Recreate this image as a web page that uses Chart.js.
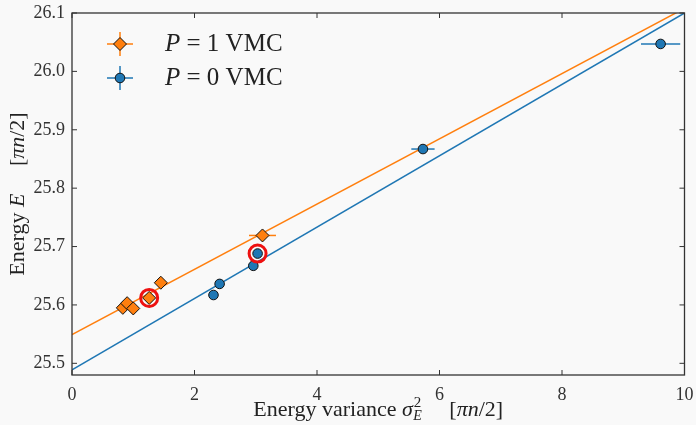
<!DOCTYPE html>
<html>
<head>
<meta charset="utf-8">
<script src="https://cdn.jsdelivr.net/npm/chart.js@4"></script>
<style>
  html, body { margin: 0; padding: 0; background: #f9f9f9; }
  #wrap { width: 696px; height: 425px; }
</style>
</head>
<body>
<div id="wrap"><canvas id="chart" width="696" height="425"></canvas></div>
<script>
// P = 1 VMC points (variance, energy, variance error)
const p1Var = [0.83, 0.90, 1.00, 1.26, 1.45, 3.11];
const p1Energy = [25.595, 25.603, 25.594, 25.612, 25.638, 25.719];
const p1VarErr = [0, 0, 0, 0, 0, 0.22];

// P = 0 VMC points
const p0Var = [2.31, 2.41, 2.96, 3.03, 5.73, 9.61];
const p0Energy = [25.617, 25.636, 25.667, 25.688, 25.867, 26.047];
const p0VarErr = [0, 0, 0, 0, 0.19, 0.32];

// highlighted points (red rings)
const ringVar = [1.26, 3.03];
const ringEnergy = [25.612, 25.688];

// linear fits, evaluated at the axis ends
const fitX = [0, 10];
const p1Fit = [25.549, 26.108];
const p0Fit = [25.489, 26.100];

const xTicks = [0, 2, 4, 6, 8, 10];
const yTicks = [25.5, 25.6, 25.7, 25.8, 25.9, 26.0, 26.1];

const ORANGE = '#ff7f0e';
const BLUE = '#1f77b4';
const SERIF = '"Liberation Serif", "DejaVu Serif", serif';

function pts(xs, ys) {
    return xs.map((x, i) => ({x: x, y: ys[i]}));
}

// draw text made of pieces with different styles
function richText(ctx, parts, x, y, align) {
    let total = 0;
    parts.forEach(p => { ctx.font = p.font; total += ctx.measureText(p.t).width + (p.dx || 0); });
    let cx = align === 'center' ? x - total / 2 : x;
    parts.forEach(p => {
        ctx.font = p.font;
        ctx.fillText(p.t, cx, y + (p.dy || 0));
        cx += ctx.measureText(p.t).width + (p.dx || 0);
    });
}

const extras = {
    id: 'extras',
    beforeDatasetsDraw(chart) {
        const ctx = chart.ctx;
        const xs = chart.scales.x, ys = chart.scales.y;
        ctx.save();
        ctx.lineWidth = 1.5;
        [[p1Var, p1Energy, p1VarErr, ORANGE], [p0Var, p0Energy, p0VarErr, BLUE]].forEach(s => {
            ctx.strokeStyle = s[3];
            s[0].forEach((v, i) => {
                if (!s[2][i]) return;
                const py = ys.getPixelForValue(s[1][i]);
                ctx.beginPath();
                ctx.moveTo(xs.getPixelForValue(v - s[2][i]), py);
                ctx.lineTo(xs.getPixelForValue(v + s[2][i]), py);
                ctx.stroke();
            });
        });
        ctx.restore();
    },
    afterDraw(chart) {
        const ctx = chart.ctx;
        const a = chart.chartArea;
        const xs = chart.scales.x, ys = chart.scales.y;
        ctx.save();
        // frame
        ctx.strokeStyle = '#333';
        ctx.lineWidth = 1.3;
        ctx.strokeRect(a.left, a.top, a.right - a.left, a.bottom - a.top);
        // inward ticks on all sides
        ctx.lineWidth = 1;
        ctx.beginPath();
        xTicks.forEach(t => {
            const px = xs.getPixelForValue(t);
            ctx.moveTo(px, a.bottom); ctx.lineTo(px, a.bottom - 5);
            ctx.moveTo(px, a.top); ctx.lineTo(px, a.top + 5);
        });
        yTicks.forEach(t => {
            const py = ys.getPixelForValue(t);
            ctx.moveTo(a.left, py); ctx.lineTo(a.left + 5, py);
            ctx.moveTo(a.right, py); ctx.lineTo(a.right - 5, py);
        });
        ctx.stroke();

        // axis titles
        ctx.fillStyle = '#222';
        ctx.textBaseline = 'middle';
        const rm = '22px ' + SERIF, it = 'italic 22px ' + SERIF, sm = '15px ' + SERIF, smi = 'italic 14px ' + SERIF;
        richText(ctx, [
            {t: 'Energy variance ', font: rm},
            {t: 'σ', font: it, dx: 1},
            {t: '2', font: sm, dy: -7, dx: -8},
            {t: 'E', font: smi, dy: 6},
            {t: '     [', font: rm},
            {t: 'πn', font: it},
            {t: '/2]', font: rm}
        ], (a.left + a.right) / 2, 410, 'center');

        ctx.save();
        ctx.translate(18, (a.top + a.bottom) / 2);
        ctx.rotate(-Math.PI / 2);
        richText(ctx, [
            {t: 'Energy ', font: rm},
            {t: 'E', font: it},
            {t: '     [', font: rm},
            {t: 'πn', font: it},
            {t: '/2]', font: rm}
        ], 0, 0, 'center');
        ctx.restore();

        // legend
        const lg = [[ORANGE, 'diamond', '1', 44], [BLUE, 'circle', '0', 78]];
        lg.forEach(l => {
            const mx = 120, my = l[3];
            ctx.strokeStyle = l[0];
            ctx.lineWidth = 1.5;
            ctx.beginPath();
            ctx.moveTo(mx - 13, my); ctx.lineTo(mx + 13, my);
            ctx.moveTo(mx, my - 12); ctx.lineTo(mx, my + 12);
            ctx.stroke();
            ctx.fillStyle = l[0];
            ctx.strokeStyle = '#111';
            ctx.lineWidth = 1;
            ctx.beginPath();
            if (l[1] === 'diamond') {
                ctx.moveTo(mx, my - 6.5); ctx.lineTo(mx + 6.5, my); ctx.lineTo(mx, my + 6.5); ctx.lineTo(mx - 6.5, my); ctx.closePath();
            } else {
                ctx.arc(mx, my, 4.8, 0, Math.PI * 2);
            }
            ctx.fill(); ctx.stroke();
            ctx.fillStyle = '#222';
            richText(ctx, [
                {t: 'P', font: 'italic 25px ' + SERIF},
                {t: ' = ' + l[2] + ' VMC', font: '25px ' + SERIF}
            ], 165, my, 'left');
        });
        ctx.restore();
    }
};

window.onload = function () {
    new Chart(document.getElementById('chart'), {
        type: 'scatter',
        data: {
            datasets: [
                {
                    label: 'highlight',
                    data: pts(ringVar, ringEnergy),
                    pointStyle: 'circle',
                    pointRadius: 8.5,
                    backgroundColor: 'rgba(0,0,0,0)',
                    borderColor: '#ee1111',
                    borderWidth: 3
                },
                {
                    label: 'P = 1 VMC',
                    data: pts(p1Var, p1Energy),
                    pointStyle: 'rectRot',
                    pointRadius: 6.5,
                    backgroundColor: ORANGE,
                    borderColor: '#111',
                    borderWidth: 1
                },
                {
                    label: 'P = 0 VMC',
                    data: pts(p0Var, p0Energy),
                    pointStyle: 'circle',
                    pointRadius: 4.8,
                    backgroundColor: BLUE,
                    borderColor: '#111',
                    borderWidth: 1
                },
                {
                    label: 'fit1',
                    type: 'line',
                    data: pts(fitX, p1Fit),
                    borderColor: ORANGE,
                    borderWidth: 1.5,
                    pointRadius: 0,
                    fill: false
                },
                {
                    label: 'fit0',
                    type: 'line',
                    data: pts(fitX, p0Fit),
                    borderColor: BLUE,
                    borderWidth: 1.5,
                    pointRadius: 0,
                    fill: false
                }
            ]
        },
        options: {
            responsive: false,
            animation: false,
            layout: {padding: {left: 0, right: 11, top: 13, bottom: 0}},
            plugins: {legend: {display: false}, tooltip: {enabled: false}},
            scales: {
                x: {
                    type: 'linear',
                    min: 0, max: 10,
                    afterBuildTicks: s => { s.ticks = xTicks.map(v => ({value: v})); },
                    afterFit: s => { s.height = 50; s.paddingLeft = 0; s.paddingRight = 0; },
                    grid: {display: false, drawTicks: false},
                    border: {display: false},
                    ticks: {padding: 9, color: '#333', font: {family: SERIF, size: 18}}
                },
                y: {
                    type: 'linear',
                    min: 25.48, max: 26.1,
                    afterBuildTicks: s => { s.ticks = yTicks.map(v => ({value: v})); },
                    afterFit: s => { s.width = 72; s.paddingTop = 0; s.paddingBottom = 0; },
                    grid: {display: false, drawTicks: false},
                    border: {display: false},
                    ticks: {padding: 7, color: '#333', font: {family: SERIF, size: 18}, callback: v => v.toFixed(1)}
                }
            }
        },
        plugins: [extras]
    });
};
</script>
</body>
</html>
